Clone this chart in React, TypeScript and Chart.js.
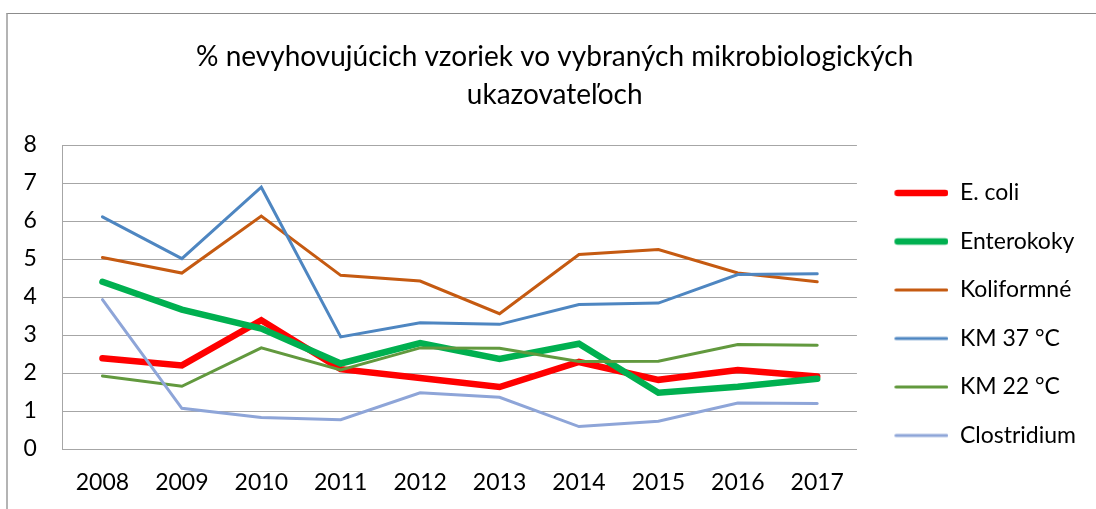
import React, { useEffect, useRef } from "react";
import { Chart, registerables } from "chart.js";

Chart.register(...registerables);

const years = ["2008", "2009", "2010", "2011", "2012", "2013", "2014", "2015", "2016", "2017"];
const eColi = [2.39, 2.2, 3.39, 2.1, 1.87, 1.63, 2.29, 1.82, 2.08, 1.91];
const enterokoky = [4.4, 3.67, 3.17, 2.25, 2.79, 2.37, 2.77, 1.48, 1.64, 1.85];
const koliformne = [5.04, 4.63, 6.13, 4.57, 4.42, 3.56, 5.12, 5.25, 4.63, 4.4];
const km37 = [6.11, 5.01, 6.89, 2.95, 3.32, 3.28, 3.8, 3.84, 4.59, 4.61];
const km22 = [1.92, 1.65, 2.66, 2.08, 2.66, 2.65, 2.3, 2.31, 2.75, 2.73];
const clostridium = [3.93, 1.07, 0.83, 0.77, 1.48, 1.36, 0.59, 0.73, 1.21, 1.2];
const yTicks = [0, 1, 2, 3, 4, 5, 6, 7, 8];

const seriesNames = ["E. coli", "Enterokoky", "Koliformné", "KM 37 °C", "KM 22 °C", "Clostridium"];
const seriesValues = [eColi, enterokoky, koliformne, km37, km22, clostridium];
const seriesColors = ["#FF0000", "#00B050", "#C55A11", "#4E86C1", "#62993E", "#8EA5D8"];
const seriesWidths = [6.5, 6.5, 3, 3, 3, 3];

const FONT = "Lato, 'Open Sans', sans-serif";
const SAMPLE_W = 66;
const SAMPLE_LINE = 54;

function makeSample(color: string, lw: number): HTMLCanvasElement {
  const c = document.createElement("canvas");
  c.width = SAMPLE_W;
  c.height = 12;
  const g = c.getContext("2d")!;
  g.strokeStyle = color;
  g.lineWidth = lw;
  g.lineCap = "round";
  g.beginPath();
  g.moveTo(SAMPLE_W - SAMPLE_LINE + lw / 2, 6);
  g.lineTo(SAMPLE_W - lw / 2, 6);
  g.stroke();
  return c;
}

export default function App() {
  const ref = useRef<HTMLCanvasElement | null>(null);
  useEffect(() => {
    if (!ref.current) return;
    const samples = seriesNames.map((_, i) => makeSample(seriesColors[i], seriesWidths[i]));
    const datasets = seriesNames.map((name, i) => ({
      label: name,
      data: seriesValues[i],
      borderColor: seriesColors[i],
      backgroundColor: seriesColors[i],
      borderWidth: seriesWidths[i],
      pointRadius: 0,
      pointHoverRadius: 0,
      tension: 0,
      fill: false,
      borderCapStyle: "round" as const,
      borderJoinStyle: "miter" as const,
      order: seriesNames.length - i,
    }));
    const chart = new Chart(ref.current, {
      type: "line",
      data: { labels: years, datasets },
      options: {
        animation: false,
        responsive: false,
        layout: { padding: { left: 23.4, right: 10, top: 0, bottom: 12.4 } },
        plugins: {
          tooltip: { enabled: false },
          title: {
            display: true,
            text: ["% nevyhovujúcich vzoriek vo vybraných mikrobiologických", "ukazovateľoch"],
            color: "#000",
            font: { family: FONT, size: 28, weight: "normal", lineHeight: 38 / 28 },
            padding: { top: 37.5, bottom: 31.5 },
          },
          legend: {
            display: true,
            position: "right",
            align: "center",
            title: { display: true, text: "", font: { size: 20, lineHeight: 1.2 }, padding: { top: 107.9, bottom: 0 } },
            labels: {
              usePointStyle: true,
              pointStyleWidth: SAMPLE_W,
              padding: 25.5,
              color: "#000",
              font: { family: FONT, size: 23 },
              sort: (a: any, b: any) => a.datasetIndex - b.datasetIndex,
              generateLabels: (c: any) =>
                c.data.datasets.map((ds: any, i: number) => ({
                  text: ds.label,
                  fillStyle: ds.borderColor,
                  strokeStyle: ds.borderColor,
                  lineWidth: ds.borderWidth,
                  pointStyle: samples[i],
                  hidden: false,
                  datasetIndex: i,
                  fontColor: "#000",
                })),
            },
          },
        },
        scales: {
          x: {
            offset: true,
            grid: { display: false, drawTicks: false },
            border: { display: true, color: "#a6a6a6", width: 1 },
            ticks: { color: "#000", font: { family: FONT, size: 23 }, padding: 20, maxRotation: 0, autoSkip: false },
            afterFit: (s: any) => {
              s.height -= s.options.ticks.padding;
            },
          },
          y: {
            min: 0,
            max: 8,
            afterBuildTicks: (scale: any) => {
              scale.ticks = yTicks.map((v) => ({ value: v }));
            },
            grid: { color: "#a6a6a6", lineWidth: 1, drawTicks: false },
            border: { display: true, color: "#a6a6a6", width: 1 },
            ticks: { color: "#000", font: { family: FONT, size: 23 }, padding: 26 },
            afterFit: (s: any) => {
              s.width -= s.options.ticks.padding;
            },
          },
        },
      },
    });
    return () => chart.destroy();
  }, []);

  return (
    <div style={{ position: "fixed", left: 0, top: 0, width: 1096, height: 509, background: "#fff", overflow: "hidden" }}>
      <div
        style={{
          position: "absolute",
          left: 6,
          top: 13,
          width: 1200,
          height: 600,
          borderTop: "1px solid #8c8c8c",
          borderLeft: "2px solid #b4b4b4",
        }}
      />
      <canvas ref={ref} width={1096} height={509} style={{ position: "absolute", left: 0, top: 0 }} />
    </div>
  );
}
